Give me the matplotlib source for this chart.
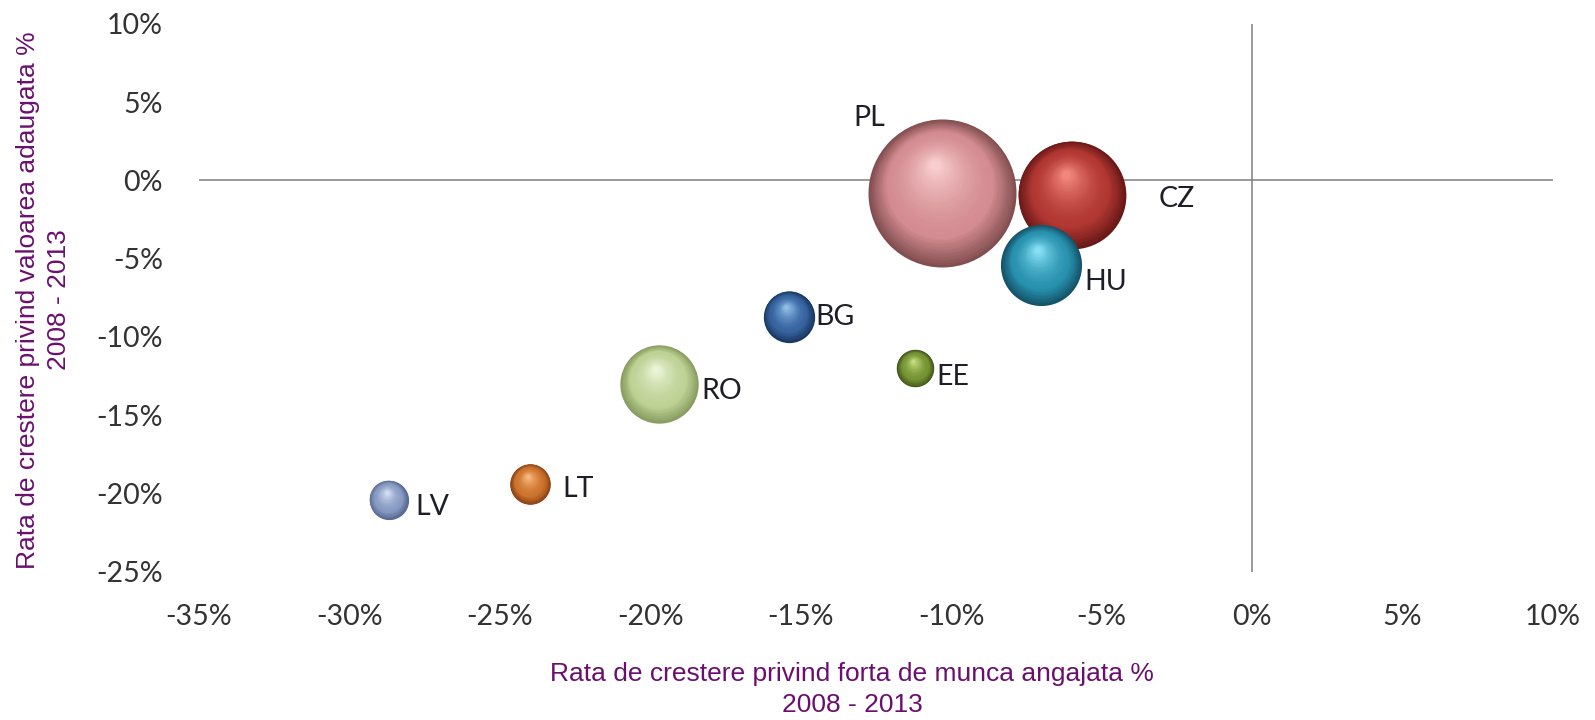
import numpy as np
import matplotlib
matplotlib.use("Agg")
import matplotlib.pyplot as plt
from matplotlib.transforms import offset_copy
from matplotlib.ticker import FixedLocator, FuncFormatter
from matplotlib import font_manager

# ---------------- data ----------------
countries = ["PL", "CZ", "HU", "RO", "BG", "LT", "LV", "EE"]
employment_growth = [-10.3, -6.0, -7.0, -19.7, -15.4, -24.0, -28.7, -11.2]   # x, %
value_added_growth = [-0.8, -0.9, -5.4, -13.0, -8.7, -19.4, -20.4, -12.0]    # y, %
bubble_size = [100, 53, 30, 28, 12, 7.5, 7.0, 6.4]                            # relative
x_ticks = [-35, -30, -25, -20, -15, -10, -5, 0, 5, 10]
y_ticks = [-25, -20, -15, -10, -5, 0, 5, 10]
x_title = ["Rata de crestere privind forta de munca angajata %", "2008 - 2013"]
y_title = ["Rata de crestere privind valoarea adaugata %", "2008 - 2013"]

# ---------------- styles ----------------
colors = {  # dark rim, base, highlight
    "PL": ((130, 78, 80), (212, 140, 145), (248, 205, 205)),
    "CZ": ((105, 25, 24), (178, 55, 50), (242, 135, 125)),
    "HU": ((20, 82, 102), (40, 145, 175), (135, 225, 245)),
    "BG": ((25, 55, 96), (55, 100, 160), (145, 190, 232)),
    "EE": ((66, 86, 25), (118, 148, 52), (195, 220, 125)),
    "RO": ((135, 155, 95), (190, 210, 150), (235, 244, 215)),
    "LT": ((135, 66, 20), (205, 115, 45), (248, 185, 125)),
    "LV": ((88, 104, 145), (135, 155, 195), (212, 222, 242)),
}
label_offsets = {  # points, left edge of label relative to bubble centre
    "PL": (-64, 54), "CZ": (62.6, -2.9), "HU": (31, -12.6), "BG": (19.4, 0),
    "EE": (15.1, -6.1), "RO": (30.2, -5.4), "LT": (23.4, -3.6), "LV": (19.4, -5),
}
SIZE_SCALE = 113.6
W, H = 1595, 720

avail = {f.name for f in font_manager.fontManager.ttflist}
title_family = ["Liberation Sans Narrow"] if "Liberation Sans Narrow" in avail else ["Liberation Sans"]
tick_family = ["Lato"] if "Lato" in avail else ["DejaVu Sans"]

fig = plt.figure(figsize=(W / 100, H / 100), dpi=100)
fig.patch.set_facecolor("white")
ax = fig.add_axes([199 / W, 1 - 571.7 / H, (1553 - 199) / W, (571.7 - 24) / H])
ax.set_xlim(-35, 10)
ax.set_ylim(-25, 10)
for s in ax.spines.values():
    s.set_visible(False)
ax.axhline(0, color="#808080", lw=1.1, zorder=1)
ax.axvline(0, color="#808080", lw=1.1, zorder=1)

ax.xaxis.set_major_locator(FixedLocator(x_ticks))
ax.yaxis.set_major_locator(FixedLocator(y_ticks))
fmt = FuncFormatter(lambda v, p: f"{v:.0f}%")
ax.xaxis.set_major_formatter(fmt)
ax.yaxis.set_major_formatter(fmt)
ax.tick_params(length=0, labelsize=20.5, labelcolor="#333333")
ax.tick_params(axis="x", pad=23)
ax.tick_params(axis="y", pad=26)
for lab in ax.get_xticklabels() + ax.get_yticklabels():
    lab.set_family(tick_family)


def ramp(c_dark, c_base, c_light, t):
    a = np.array(c_dark) / 255
    b = np.array(c_base) / 255
    c = np.array(c_light) / 255
    if t < 0.3:
        u = t / 0.3
        return a + (b - a) * u
    u = (t - 0.3) / 0.7
    u = u ** 1.6
    return b + (c - b) * u


N = 48
for k, (name, x, y, sz) in enumerate(zip(countries, employment_growth, value_added_growth, bubble_size)):
    s = sz * SIZE_SCALE
    D = np.sqrt(s)
    R = D / 2
    dark, base, light = colors[name]
    for i in range(N):
        t = i / (N - 1)
        d = D * (1 - 0.93 * t)
        dx, dy = -0.10 * R * t, 0.38 * R * t
        tr = offset_copy(ax.transData, fig=fig, x=dx, y=dy, units="points")
        ax.scatter([x], [y], s=d ** 2, color=ramp(dark, base, light, t),
                   linewidths=0, transform=tr, zorder=3 + k * 0.01 + i * 0.0001)
    ox, oy = label_offsets[name]
    ax.annotate(name, (x, y), xytext=(ox, oy), textcoords="offset points",
                ha="left", va="center", fontsize=20.5, color="#1e1e28",
                family=tick_family, zorder=10)

purple = "#6a0f6e"
fig.text(852 / W, 1 - 674 / H, x_title[0], ha="center", va="center", fontsize=19,
         color=purple, family=title_family)
fig.text(852 / W, 1 - 705 / H, x_title[1], ha="center", va="center", fontsize=19,
         color=purple, family=title_family)
fig.text(28 / W, 1 - 300 / H, y_title[0], ha="center", va="center", fontsize=19,
         color=purple, family=title_family, rotation=90)
fig.text(59 / W, 1 - 300 / H, y_title[1], ha="center", va="center", fontsize=19,
         color=purple, family=title_family, rotation=90)

fig.savefig("out.png", dpi=100, facecolor="white")
